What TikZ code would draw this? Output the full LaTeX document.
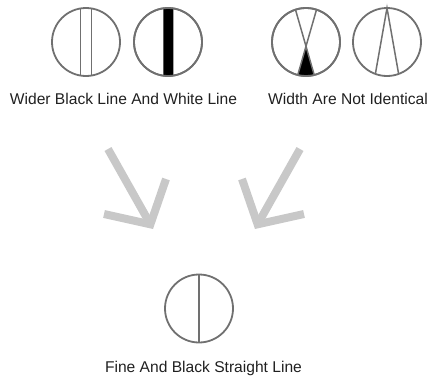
\documentclass[tikz,border=0pt]{standalone}
\usepackage{fontspec}
\setmainfont{Liberation Sans}
\definecolor{ringgray}{HTML}{707070}
\definecolor{arrowgray}{HTML}{C8C8C8}
\definecolor{textdark}{HTML}{202020}
\tikzset{
  ring/.style={circle, draw=ringgray, line width=1.8pt, minimum size=68pt, inner sep=0pt, outer sep=0pt},
  chord/.style={draw=ringgray, line width=1.5pt},
  caption/.style={anchor=base, text=textdark, font=\fontsize{15.6}{18}\selectfont, inner sep=0pt},
  bigarrow/.style={draw=arrowgray, line width=8pt},
}
\begin{document}
\begin{tikzpicture}[x=1pt, y=-1pt]
\useasboundingbox (0,0) rectangle (432,383);
% circles
\node[ring] (c1) at (86,42) {};
\node[ring] (c2) at (168,42) {};
\node[ring] (c3) at (306,42) {};
\node[ring] (c4) at (387,42) {};
\node[ring] (c5) at (199,308.5) {};
% circle 1: two thin lines
\draw[chord] (c1.99) -- (c1.-99);
\draw[chord] (c1.81) -- (c1.-81);
% circle 2: wide black bar
\fill[black] (c2.98.5) -- (c2.81.5) -- (c2.-81.5) -- (c2.-98.5) -- cycle;
\node[ring] at (c2) {};
% circle 3: crossing lines, black lower triangle
\coordinate (x3) at (intersection of c3.108--c3.284 and c3.72--c3.256);
\fill[black] (x3) -- (c3.256) -- (c3.263) -- (c3.270) -- (c3.277) -- (c3.284) -- cycle;
\draw[chord] (c3.108) -- (c3.284);
\draw[chord] (c3.72) -- (c3.256);
\node[ring] at (c3) {};
% circle 4: inverted V
\draw[chord, line join=miter] (c4.250) -- (c4.90) -- (c4.290);
% circle 5: single fine line
\draw[chord] (c5.90) -- (c5.270);
% captions
\node[caption] (t1) at (123.5,104.5) {Wider Black Line And White Line};
\node[caption] (t2) at (348,104.5) {Width Are Not Identical};
\node[caption] (t3) at (203.5,372) {Fine And Black Straight Line};
% arrows
\coordinate (a1s) at (108,149);
\coordinate (a1v) at (150.4,224.3);
\coordinate (a1l) at (104,214);
\coordinate (a1r) at (166,179);
\coordinate (a2s) at (300,149);
\coordinate (a2v) at (257.6,224.3);
\coordinate (a2l) at (242,179);
\coordinate (a2r) at (304,214);
\draw[bigarrow] (a1s) -- (a1v);
\draw[bigarrow, line join=miter] (a1l) -- (a1v) -- (a1r);
\draw[bigarrow] (a2s) -- (a2v);
\draw[bigarrow, line join=miter] (a2l) -- (a2v) -- (a2r);
\end{tikzpicture}
\end{document}
